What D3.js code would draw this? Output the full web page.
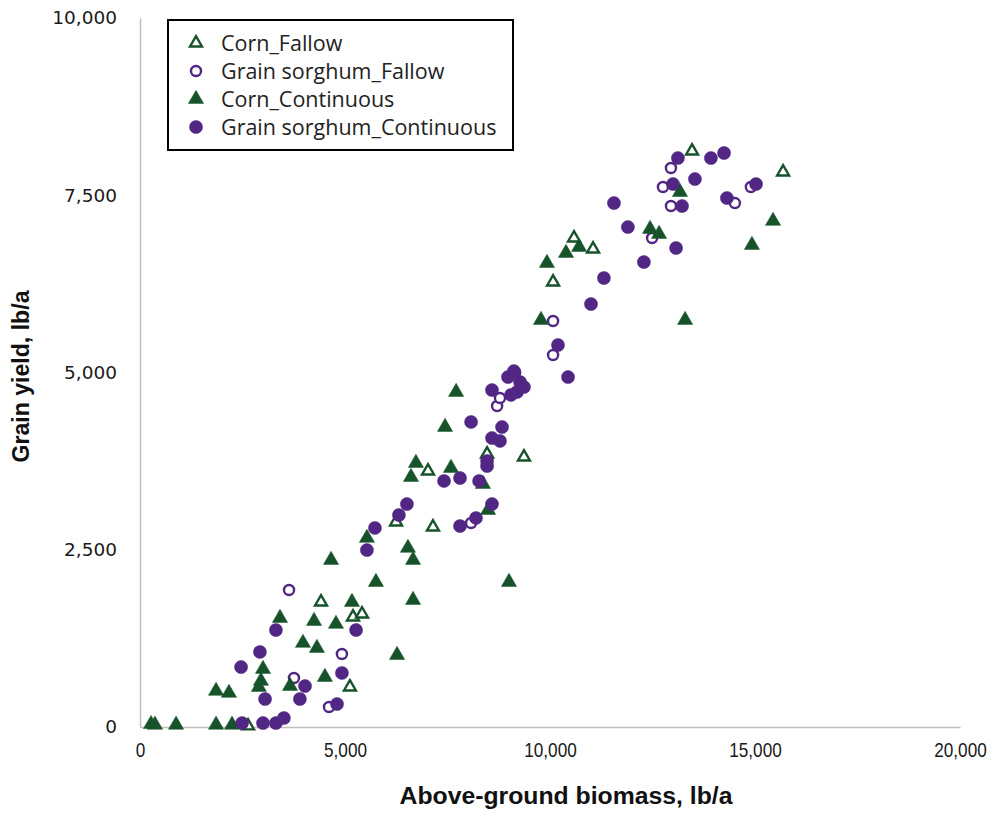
<!DOCTYPE html>
<html>
<head>
<meta charset="utf-8">
<script src="https://cdn.jsdelivr.net/npm/d3@7"></script>
<style>
  body { margin: 0; background: #fff; }
  svg { display: block; }
</style>
</head>
<body>
<svg id="chart" width="997" height="813"></svg>
<script>
// values: [biomass lb/a, grain yield lb/a]
const cornFallow = [
  [2635, 15], [5120, 564], [5195, 1551], [5415, 1594], [4415, 1763],
  [6245, 2891], [7145, 2821], [7025, 3611], [8465, 3850], [9365, 3808],
  [10075, 6276], [10585, 6897], [11050, 6742], [13465, 8124], [15685, 7828]
];
const sorghumFallow = [
  [3635, 1932], [3755, 691], [4925, 1030], [4610, 282], [8075, 2877],
  [8710, 4527], [8780, 4640], [9150, 5000], [10075, 5247], [10075, 5726],
  [12490, 6897], [12755, 7616], [12950, 7884], [12950, 7348], [14510, 7390],
  [14900, 7616]
];
const cornContinuous = [
  [270, 40], [365, 30], [880, 30], [1855, 30], [2245, 30],
  [1855, 508], [2170, 480], [3000, 818], [2950, 649], [2900, 564],
  [3660, 578], [3415, 1537], [3975, 1185], [4315, 1114], [4245, 1495],
  [4510, 705], [4780, 1453], [4660, 2355], [5170, 1763], [5535, 2666],
  [5755, 2045], [6270, 1015], [6535, 2525], [6660, 2355], [6660, 1791],
  [6610, 3526], [6730, 3723], [7585, 3653], [7440, 4231], [7710, 4725],
  [8365, 3427], [8490, 3060], [9000, 2045], [9780, 5740], [9925, 6544],
  [10390, 6685], [10710, 6770], [12440, 7024], [12660, 6953], [13170, 7545],
  [13295, 5740], [14925, 6798], [15440, 7137]
];
const sorghumContinuous = [
  [2490, 56], [3000, 56], [3315, 56], [3510, 127], [3050, 395],
  [3900, 395], [4805, 324], [4025, 578], [4925, 762], [2465, 846],
  [2925, 1058], [3315, 1368], [5270, 1368], [5535, 2496], [5730, 2807],
  [6315, 2990], [6510, 3145], [7415, 3470], [7805, 3512], [8270, 3470],
  [7805, 2835], [8195, 2948], [8585, 3145], [8465, 3681], [8465, 3752],
  [8075, 4302], [8830, 4231], [8585, 4076], [8780, 4034], [8585, 4753],
  [8975, 4936], [9120, 5020], [9270, 4866], [9365, 4795], [9195, 4725],
  [9050, 4683], [10195, 5388], [10440, 4936], [11000, 5966], [11315, 6333],
  [12290, 6558], [13075, 6756], [11900, 7052], [11560, 7390], [13120, 8025],
  [13925, 8025], [14245, 8096], [13000, 7658], [13535, 7729], [13220, 7348],
  [14315, 7461], [15025, 7658]
];

const seriesNames = ["Corn_Fallow", "Grain sorghum_Fallow", "Corn_Continuous", "Grain sorghum_Continuous"];
const xTicks = [0, 5000, 10000, 15000, 20000];
const yTicks = [0, 2500, 5000, 7500, 10000];

const green = "#17532a";
const purple = "#512684";

const layout = { width: 997, height: 813, left: 140, right: 960, top: 18, bottom: 727 };

const series = [
  { name: seriesNames[0], data: cornFallow, shape: d3.symbolTriangle, open: true, color: green },
  { name: seriesNames[1], data: sorghumFallow, shape: d3.symbolCircle, open: true, color: purple },
  { name: seriesNames[2], data: cornContinuous, shape: d3.symbolTriangle, open: false, color: green },
  { name: seriesNames[3], data: sorghumContinuous, shape: d3.symbolCircle, open: false, color: purple }
];

const svg = d3.select("#chart");

const xScale = d3.scaleLinear().domain([0, 20000]).range([layout.left, layout.right]);
const yScale = d3.scaleLinear().domain([0, 10000]).range([layout.bottom, layout.top]);
const fmt = d3.format(",");

// axes
const xAxis = d3.axisBottom(xScale).tickValues(xTicks).tickFormat(fmt).tickSize(0).tickPadding(16);
const gx = svg.append("g").attr("transform", `translate(0, ${layout.bottom})`).call(xAxis);
gx.select(".domain").attr("stroke", "#c0c0c0").attr("stroke-width", 1.5);
gx.selectAll("text")
  .attr("font-family", "'Liberation Sans', sans-serif")
  .attr("font-size", 20).attr("fill", "#1a1a1a")
  .attr("transform", "scale(0.86, 1)");

const yAxis = d3.axisLeft(yScale).tickValues(yTicks).tickFormat(fmt).tickSize(0).tickPadding(23);
const gy = svg.append("g").attr("transform", `translate(${layout.left}, 0)`).call(yAxis);
gy.select(".domain").attr("stroke", "#c0c0c0").attr("stroke-width", 1.5);
gy.selectAll("text")
  .attr("font-family", "'DejaVu Sans', sans-serif")
  .attr("font-size", 18.5).attr("fill", "#1a1a1a");

// axis titles
svg.append("text")
  .attr("x", (layout.left + layout.right) / 2 + 16).attr("y", 804)
  .attr("text-anchor", "middle")
  .attr("font-family", "'Liberation Sans', sans-serif")
  .attr("font-weight", "bold").attr("font-size", 23)
  .attr("textLength", 333).attr("lengthAdjust", "spacingAndGlyphs")
  .attr("fill", "#111")
  .text("Above-ground biomass, lb/a");

svg.append("g")
  .attr("transform", `translate(29, ${(layout.top + layout.bottom) / 2 + 4})`)
  .append("text")
  .attr("transform", "rotate(-90)")
  .attr("text-anchor", "middle")
  .attr("font-family", "'Liberation Sans', sans-serif")
  .attr("font-weight", "bold").attr("font-size", 23)
  .attr("textLength", 172).attr("lengthAdjust", "spacingAndGlyphs")
  .attr("fill", "#111")
  .text("Grain yield, lb/a");

// points
function symbolPath(s) {
  if (s.shape === d3.symbolTriangle) return d3.symbol(s.shape, s.open ? 62 : 100)();
  return d3.symbol(s.shape, s.open ? 80 : 135)();
}

series.forEach((s) => {
  svg.append("g")
    .selectAll("path")
    .data(s.data)
    .join("path")
    .attr("d", symbolPath(s))
    .attr("transform", (d) => `translate(${xScale(d[0])}, ${yScale(d[1])})`)
    .attr("fill", s.open ? "#fff" : s.color)
    .attr("stroke", s.color)
    .attr("stroke-width", s.open ? 2.4 : 0.5);
});

// legend
const legend = svg.append("g").attr("transform", "translate(168, 20)");
legend.append("rect")
  .attr("width", 345).attr("height", 130)
  .attr("fill", "#fff").attr("stroke", "#000").attr("stroke-width", 2);

series.forEach((s, i) => {
  const row = legend.append("g").attr("transform", `translate(0, ${23 + i * 28})`);
  row.append("path")
    .attr("d", symbolPath(s))
    .attr("transform", "translate(28, 0)")
    .attr("fill", s.open ? "#fff" : s.color)
    .attr("stroke", s.color)
    .attr("stroke-width", s.open ? 2.4 : 0.5);
  row.append("text")
    .attr("x", 53).attr("y", 0).attr("dy", "0.35em")
    .attr("font-family", "'Open Sans', sans-serif")
    .attr("font-size", 21.5).attr("fill", "#222")
    .text(s.name);
});
</script>
</body>
</html>
